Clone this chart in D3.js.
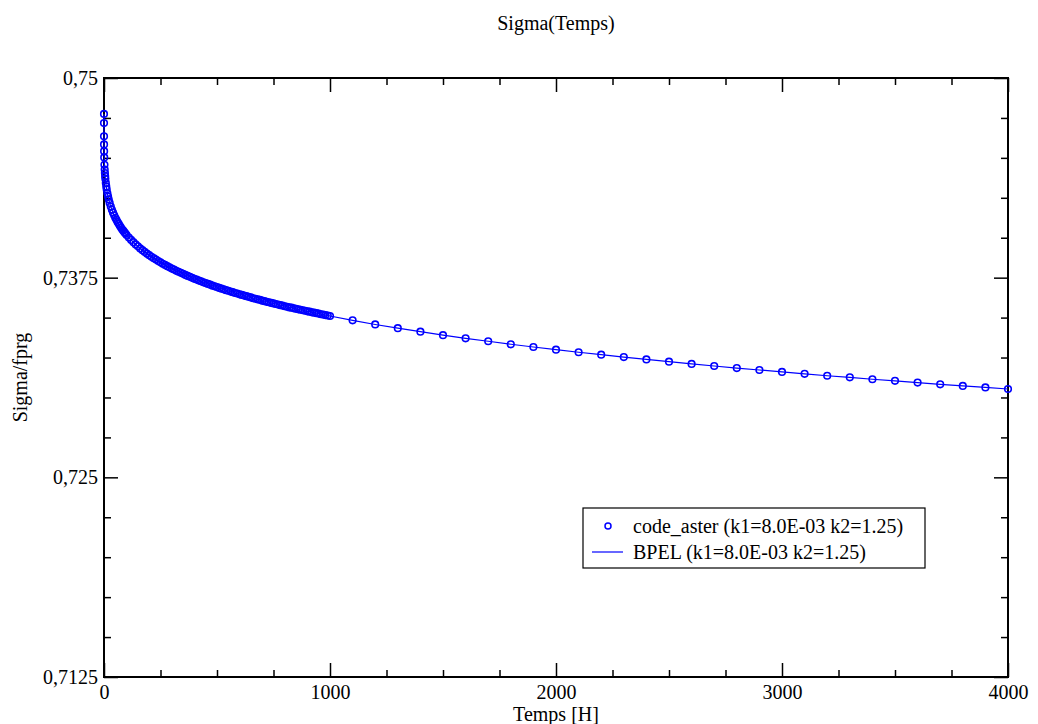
<!DOCTYPE html>
<html>
<head>
<meta charset="utf-8">
<script src="https://cdn.jsdelivr.net/npm/d3@7"></script>
<style>
  html, body { margin: 0; padding: 0; background: #fff; }
  svg { display: block; }
  svg text { font-family: "Liberation Serif", "Times New Roman", "DejaVu Serif", serif; }
</style>
</head>
<body>
<svg id="chart" width="1038" height="724"></svg>
<script>
// ---- data ----
const times = [
  0, 0.001, 0.05, 0.2, 0.5, 1, 2, 3, 4, 5, 6, 8, 10, 12, 15, 18, 21, 25, 30, 35, 40, 45, 50,
  55, 60, 65, 70, 75, 80, 85, 90, 95,
  100, 110, 120, 130, 140, 150, 160, 170, 180, 190,
  200, 210, 220, 230, 240, 250, 260, 270, 280, 290,
  300, 310, 320, 330, 340, 350, 360, 370, 380, 390,
  400, 410, 420, 430, 440, 450, 460, 470, 480, 490,
  500, 510, 520, 530, 540, 550, 560, 570, 580, 590,
  600, 610, 620, 630, 640, 650, 660, 670, 680, 690,
  700, 710, 720, 730, 740, 750, 760, 770, 780, 790,
  800, 810, 820, 830, 840, 850, 860, 870, 880, 890,
  900, 910, 920, 930, 940, 950, 960, 970, 980, 990,
  1000, 1100, 1200, 1300, 1400, 1500, 1600, 1700, 1800, 1900,
  2000, 2100, 2200, 2300, 2400, 2500, 2600, 2700, 2800, 2900,
  3000, 3100, 3200, 3300, 3400, 3500, 3600, 3700, 3800, 3900, 4000
];
const sigmaAster = [
  0.74775, 0.74718, 0.74635, 0.74584, 0.74542, 0.74503, 0.74457, 0.74427, 0.74405, 0.74386,
  0.74370, 0.74343, 0.74321, 0.74302, 0.74278, 0.74258, 0.74239, 0.74218, 0.74195, 0.74175,
  0.74157, 0.74140, 0.74125,
  0.74112, 0.74098, 0.74087, 0.74075, 0.74064, 0.74053, 0.74044, 0.74035, 0.74026,
  0.74017, 0.74001, 0.73986, 0.73972, 0.73958, 0.73946, 0.73933, 0.73922, 0.73911, 0.73901,
  0.73891, 0.73881, 0.73872, 0.73863, 0.73854, 0.73846, 0.73837, 0.73830, 0.73822, 0.73815,
  0.73807, 0.73801, 0.73793, 0.73787, 0.73780, 0.73774, 0.73767, 0.73761, 0.73755, 0.73749,
  0.73743, 0.73738, 0.73732, 0.73727, 0.73721, 0.73716, 0.73711, 0.73706, 0.73700, 0.73696,
  0.73691, 0.73686, 0.73681, 0.73677, 0.73672, 0.73668, 0.73663, 0.73659, 0.73654, 0.73651,
  0.73646, 0.73642, 0.73638, 0.73634, 0.73630, 0.73626, 0.73621, 0.73618, 0.73614, 0.73611,
  0.73606, 0.73603, 0.73599, 0.73596, 0.73592, 0.73589, 0.73585, 0.73582, 0.73578, 0.73575,
  0.73571, 0.73568, 0.73564, 0.73562, 0.73558, 0.73555, 0.73552, 0.73549, 0.73546, 0.73543,
  0.73539, 0.73537, 0.73533, 0.73531, 0.73528, 0.73525, 0.73521, 0.73519, 0.73516, 0.73513,
  0.73510, 0.73483, 0.73457, 0.73434, 0.73412, 0.73390, 0.73370, 0.73352, 0.73333, 0.73316,
  0.73299, 0.73283, 0.73268, 0.73253, 0.73238, 0.73224, 0.73210, 0.73197, 0.73184, 0.73172,
  0.73160, 0.73148, 0.73136, 0.73126, 0.73114, 0.73104, 0.73093, 0.73082, 0.73072, 0.73063, 0.73053
];
const sigmaBPEL = sigmaAster.slice(); // analytic BPEL curve coincides with the markers
const xTickValues = [0, 1000, 2000, 3000, 4000];
const xTickLabels = ["0", "1000", "2000", "3000", "4000"];
const yTickValues = [0.7125, 0.725, 0.7375, 0.75];
const yTickLabels = ["0,7125", "0,725", "0,7375", "0,75"];
const seriesNames = ["code_aster (k1=8.0E-03 k2=1.25)", "BPEL (k1=8.0E-03 k2=1.25)"];
const titleText = "Sigma(Temps)";
const xLabel = "Temps [H]";
const yLabel = "Sigma/fprg";

// ---- layout ----
const FONT = "'Liberation Serif', 'Times New Roman', 'DejaVu Serif', serif";
const FS = 20;
const svg = d3.select("#chart");
const L = 104, R = 1008, T = 78, B = 677;
const x = d3.scaleLinear().domain([0, 4000]).range([L, R]);
const y = d3.scaleLinear().domain([0.7125, 0.75]).range([B, T]);
const blue = "#0000ff";

const xMinor = [250, 500, 750, 1250, 1500, 1750, 2250, 2500, 2750, 3250, 3500, 3750];
const yMinor = d3.range(0, 16).map(i => 0.7125 + i * 0.0025)
  .filter(v => !yTickValues.some(t => Math.abs(t - v) < 1e-9));

function drawAxis(axisGen, tx, ty) {
  const g = svg.append("g").attr("transform", `translate(${tx},${ty})`).call(axisGen);
  g.attr("font-family", FONT);
  g.select(".domain").remove();
  g.selectAll("line").attr("stroke", "#000").attr("stroke-width", 1.5);
  return g;
}
// bottom
const gxB = drawAxis(d3.axisBottom(x).tickValues(xTickValues).tickSize(-14)
  .tickFormat((d, i) => xTickLabels[i]), 0, B);
gxB.selectAll("text").attr("font-size", FS).attr("fill", "#000").attr("font-family", FONT)
  .attr("y", 5).attr("dy", "0.85em");
drawAxis(d3.axisBottom(x).tickValues(xMinor).tickSize(-7).tickFormat(""), 0, B);
// top
drawAxis(d3.axisTop(x).tickValues(xTickValues).tickSize(-14).tickFormat(""), 0, T);
drawAxis(d3.axisTop(x).tickValues(xMinor).tickSize(-7).tickFormat(""), 0, T);
// left
const gyL = drawAxis(d3.axisLeft(y).tickValues(yTickValues).tickSize(-14)
  .tickFormat((d, i) => yTickLabels[i]), L, 0);
gyL.selectAll("text").attr("font-size", FS).attr("fill", "#000").attr("font-family", FONT).attr("x", -6);
drawAxis(d3.axisLeft(y).tickValues(yMinor).tickSize(-7).tickFormat(""), L, 0);
// right
drawAxis(d3.axisRight(y).tickValues(yTickValues).tickSize(-14).tickFormat(""), R, 0);
drawAxis(d3.axisRight(y).tickValues(yMinor).tickSize(-7).tickFormat(""), R, 0);

// frame
svg.append("rect").attr("x", L).attr("y", T).attr("width", R - L).attr("height", B - T)
  .attr("fill", "none").attr("stroke", "#000").attr("stroke-width", 2);

// BPEL line
const pts = times.map((t, i) => ({ t, v: sigmaBPEL[i] }));
svg.append("path").datum(pts)
  .attr("fill", "none").attr("stroke", blue).attr("stroke-width", 1.2)
  .attr("d", d3.line().x(d => x(d.t)).y(d => y(d.v)));

// code_aster markers
svg.append("g").selectAll("circle").data(times.map((t, i) => ({ t, v: sigmaAster[i] })))
  .join("circle")
  .attr("cx", d => x(d.t)).attr("cy", d => y(d.v)).attr("r", 3.3)
  .attr("fill", "none").attr("stroke", blue).attr("stroke-width", 1.6);

// title & axis labels
svg.append("text").attr("x", (L + R) / 2).attr("y", 30).attr("text-anchor", "middle")
  .attr("font-family", FONT).attr("font-size", FS).text(titleText);
svg.append("text").attr("x", (L + R) / 2).attr("y", 721).attr("text-anchor", "middle")
  .attr("font-family", FONT).attr("font-size", FS).text(xLabel);
svg.append("text").attr("transform", `translate(27,${(T + B) / 2}) rotate(-90)`)
  .attr("text-anchor", "middle").attr("font-family", FONT).attr("font-size", FS).text(yLabel);

// legend
const lg = svg.append("g");
lg.append("rect").attr("x", 583).attr("y", 508).attr("width", 342).attr("height", 60)
  .attr("fill", "#fff").attr("stroke", "#000").attr("stroke-width", 1.2);
lg.append("circle").attr("cx", 608).attr("cy", 526).attr("r", 3)
  .attr("fill", "none").attr("stroke", blue).attr("stroke-width", 1.5);
lg.append("line").attr("x1", 592).attr("x2", 623).attr("y1", 552).attr("y2", 552)
  .attr("stroke", blue).attr("stroke-width", 1.2);
lg.append("text").attr("x", 633).attr("y", 533).attr("font-family", FONT).attr("font-size", FS).text(seriesNames[0]);
lg.append("text").attr("x", 633).attr("y", 559).attr("font-family", FONT).attr("font-size", FS).text(seriesNames[1]);
</script>
</body>
</html>
